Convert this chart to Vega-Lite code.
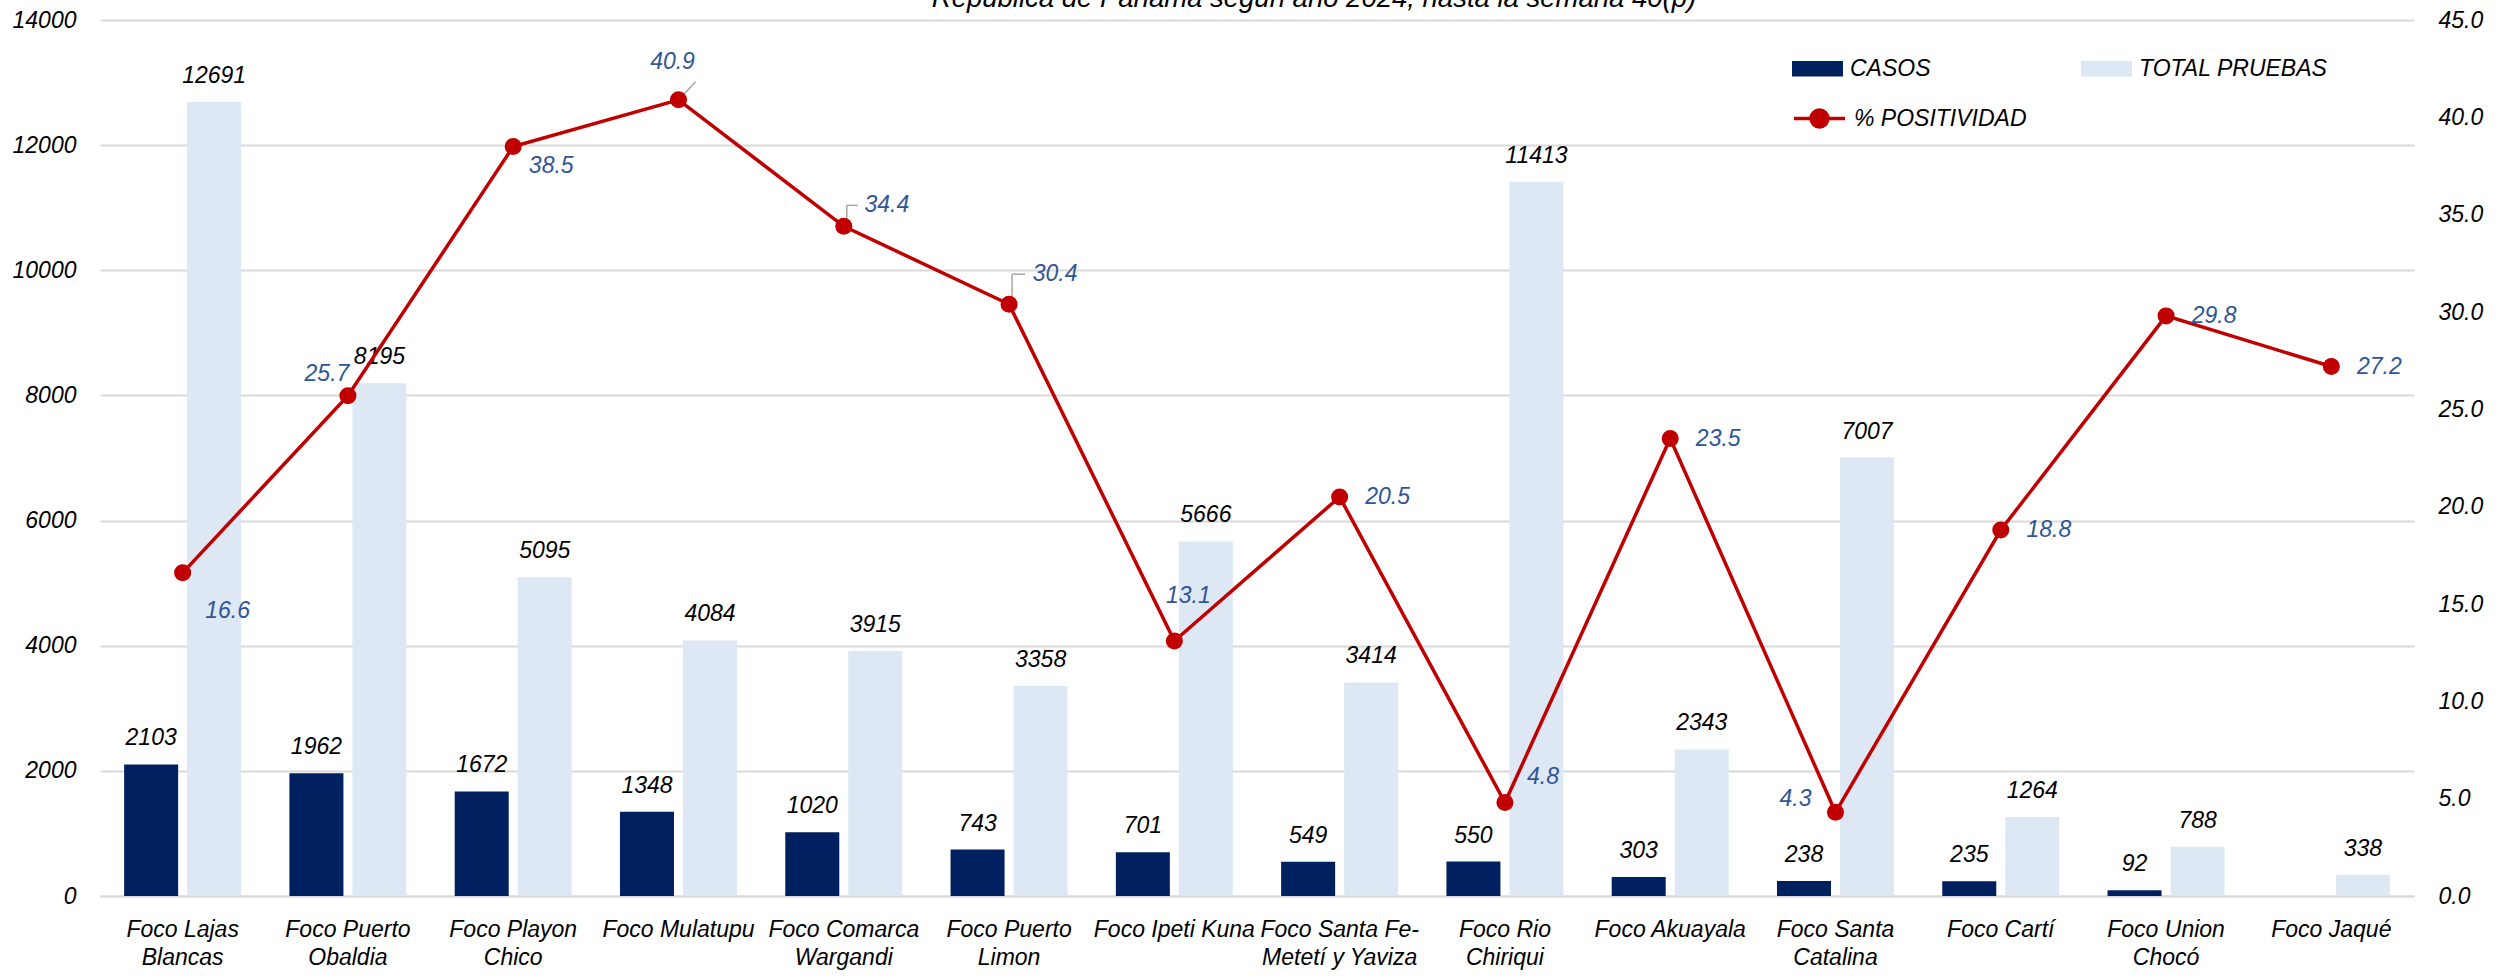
{
  "$schema": "https://vega.github.io/schema/vega-lite/v6.json",
  "width": 2314,
  "height": 876,
  "autosize": {"type": "none"},
  "padding": {"left": 100, "top": 20, "right": 99, "bottom": 83},
  "background": "white",
  "title": {"text": "República de Panamá según año 2024, hasta la semana 40(p)", "fontSize": 27.5, "fontStyle": "italic", "fontWeight": "normal", "font": "Liberation Sans", "color": "#000000", "anchor": "middle", "frame": "group", "dx": 57, "offset": -25, "baseline": "alphabetic"},
  "data": {"values": [
    {"foco": "Foco Lajas Blancas", "CASOS": 2103, "TOTAL PRUEBAS": 12691, "pct": 16.6},
    {"foco": "Foco Puerto Obaldia", "CASOS": 1962, "TOTAL PRUEBAS": 8195, "pct": 25.7},
    {"foco": "Foco Playon Chico", "CASOS": 1672, "TOTAL PRUEBAS": 5095, "pct": 38.5},
    {"foco": "Foco Mulatupu", "CASOS": 1348, "TOTAL PRUEBAS": 4084, "pct": 40.9},
    {"foco": "Foco Comarca Wargandi", "CASOS": 1020, "TOTAL PRUEBAS": 3915, "pct": 34.4},
    {"foco": "Foco Puerto Limon", "CASOS": 743, "TOTAL PRUEBAS": 3358, "pct": 30.4},
    {"foco": "Foco Ipeti Kuna", "CASOS": 701, "TOTAL PRUEBAS": 5666, "pct": 13.1},
    {"foco": "Foco Santa Fe-Metetí y Yaviza", "CASOS": 549, "TOTAL PRUEBAS": 3414, "pct": 20.5},
    {"foco": "Foco Rio Chiriqui", "CASOS": 550, "TOTAL PRUEBAS": 11413, "pct": 4.8},
    {"foco": "Foco Akuayala", "CASOS": 303, "TOTAL PRUEBAS": 2343, "pct": 23.5},
    {"foco": "Foco Santa Catalina", "CASOS": 238, "TOTAL PRUEBAS": 7007, "pct": 4.3},
    {"foco": "Foco Cartí", "CASOS": 235, "TOTAL PRUEBAS": 1264, "pct": 18.8},
    {"foco": "Foco Union Chocó", "CASOS": 92, "TOTAL PRUEBAS": 788, "pct": 29.8},
    {"foco": "Foco Jaqué", "CASOS": null, "TOTAL PRUEBAS": 338, "pct": 27.2}
  ]},
  "layer": [
    {
      "transform": [{"fold": ["CASOS", "TOTAL PRUEBAS"], "as": ["serie", "valor"]}],
      "encoding": {
        "x": {"field": "foco", "type": "nominal", "sort": null, "scale": {"paddingInner": 0.292, "paddingOuter": 0.146},
          "axis": {"labelAngle": 0, "labelPadding": 22, "labelLineHeight": 28, "labelLimit": 400, "domain": true, "domainColor": "#D9D9D9", "domainWidth": 2, "grid": false,
            "labelExpr": "datum.label == 'Foco Santa Fe-Metetí y Yaviza' ? ['Foco Santa Fe-', 'Metetí y Yaviza'] : indexof(['Foco Mulatupu', 'Foco Ipeti Kuna', 'Foco Akuayala', 'Foco Cartí', 'Foco Jaqué'], datum.label) >= 0 ? datum.label : [slice(datum.label, 0, indexof(slice(datum.label, 5), ' ') + 5), slice(datum.label, indexof(slice(datum.label, 5), ' ') + 6)]"}},
        "xOffset": {"field": "serie", "type": "nominal", "scale": {"paddingInner": 0.143, "paddingOuter": 0}},
        "y": {"field": "valor", "type": "quantitative", "scale": {"domain": [0, 14000], "nice": false},
          "axis": {"values": [0, 2000, 4000, 6000, 8000, 10000, 12000, 14000], "format": "d", "labelPadding": 24, "grid": true}}
      },
      "layer": [
        {
          "mark": {"type": "bar"},
          "encoding": {
            "color": {"field": "serie", "type": "nominal", "scale": {"domain": ["CASOS", "TOTAL PRUEBAS"], "range": ["#002060", "#DDE8F4"]},
              "legend": {"title": null, "orient": "none", "legendX": 1692, "legendY": 23, "columns": 2, "columnPadding": 150, "padding": 0,
                "symbolType": "M-1,-0.3H1V0.3H-1Z", "symbolSize": 2601, "symbolStrokeWidth": 0, "labelOffset": 7, "labelLimit": 500,
                "labelFont": "Liberation Sans", "labelFontSize": 23, "labelFontStyle": "italic", "labelColor": "#000000"}}
          }
        },
        {
          "mark": {"type": "text", "baseline": "alphabetic", "dy": -19, "color": "#000000"},
          "encoding": {"text": {"field": "valor", "type": "quantitative", "format": "d"}}
        }
      ]
    },
    {
      "encoding": {
        "x": {"field": "foco", "type": "nominal", "sort": null},
        "y": {"field": "pct", "type": "quantitative", "scale": {"domain": [0, 45], "nice": false},
          "axis": {"orient": "right", "values": [0, 5, 10, 15, 20, 25, 30, 35, 40, 45], "format": ".1f", "labelPadding": 24, "grid": false}}
      },
      "layer": [
        {
          "transform": [{"filter": {"field": "foco", "equal": "Foco Mulatupu"}}],
          "mark": {"type": "rule", "color": "#A6A6A6", "strokeWidth": 1.5, "xOffset": 5, "x2Offset": 17, "yOffset": -5, "y2Offset": -18},
          "encoding": {"x2": {"field": "foco"}, "y2": {"field": "pct"}}
        },
        {
          "transform": [{"filter": {"field": "foco", "oneOf": ["Foco Comarca Wargandi", "Foco Puerto Limon"]}}],
          "mark": {"type": "rule", "color": "#A6A6A6", "strokeWidth": 1.5, "xOffset": 3, "yOffset": -8, "y2Offset": -21},
          "encoding": {"y2": {"field": "pct"}}
        },
        {
          "transform": [{"filter": {"field": "foco", "oneOf": ["Foco Comarca Wargandi"]}}],
          "mark": {"type": "rule", "color": "#A6A6A6", "strokeWidth": 1.5, "xOffset": 3, "x2Offset": 14, "yOffset": -21},
          "encoding": {"x2": {"field": "foco"}}
        },
        {
          "transform": [{"filter": {"field": "foco", "oneOf": ["Foco Puerto Limon"]}}],
          "mark": {"type": "rule", "color": "#A6A6A6", "strokeWidth": 1.5, "xOffset": 3, "yOffset": -21, "y2Offset": -30},
          "encoding": {"y2": {"field": "pct"}}
        },
        {
          "transform": [{"filter": {"field": "foco", "oneOf": ["Foco Puerto Limon"]}}],
          "mark": {"type": "rule", "color": "#A6A6A6", "strokeWidth": 1.5, "xOffset": 3, "x2Offset": 16, "yOffset": -30},
          "encoding": {"x2": {"field": "foco"}}
        },
        {
          "mark": {"type": "line", "strokeWidth": 3.5, "point": {"filled": true, "size": 290}},
          "encoding": {
            "color": {"datum": "% POSITIVIDAD", "type": "nominal", "scale": {"range": ["#C00000"]},
              "legend": {"title": null, "orient": "none", "legendX": 1692, "legendY": 71, "padding": 0,
                "symbolType": "M-1,0H1M-0.33,0A0.33,0.33,0,1,0,0.33,0A0.33,0.33,0,1,0,-0.33,0Z", "symbolSize": 2601, "symbolStrokeWidth": 3.5,
                "symbolFillColor": "#C00000", "symbolStrokeColor": "#C00000", "labelOffset": 7, "labelLimit": 500,
                "labelFont": "Liberation Sans", "labelFontSize": 23, "labelFontStyle": "italic", "labelColor": "#000000"}}
          }
        },
        {
          "transform": [{"filter": {"field": "foco", "oneOf": ["Foco Santa Fe-Metetí y Yaviza", "Foco Akuayala", "Foco Cartí", "Foco Union Chocó", "Foco Jaqué"]}}],
          "mark": {"type": "text", "color": "#2F5597", "dx": 48, "dy": 0},
          "encoding": {"text": {"field": "pct", "type": "quantitative", "format": ".1f"}}
        },
        {
          "transform": [{"filter": {"field": "foco", "equal": "Foco Lajas Blancas"}}],
          "mark": {"type": "text", "color": "#2F5597", "dx": 45, "dy": 38},
          "encoding": {"text": {"field": "pct", "type": "quantitative", "format": ".1f"}}
        },
        {
          "transform": [{"filter": {"field": "foco", "equal": "Foco Puerto Obaldia"}}],
          "mark": {"type": "text", "color": "#2F5597", "dx": -21, "dy": -22},
          "encoding": {"text": {"field": "pct", "type": "quantitative", "format": ".1f"}}
        },
        {
          "transform": [{"filter": {"field": "foco", "equal": "Foco Playon Chico"}}],
          "mark": {"type": "text", "color": "#2F5597", "dx": 38, "dy": 19},
          "encoding": {"text": {"field": "pct", "type": "quantitative", "format": ".1f"}}
        },
        {
          "transform": [{"filter": {"field": "foco", "equal": "Foco Mulatupu"}}],
          "mark": {"type": "text", "color": "#2F5597", "dx": -6, "dy": -38},
          "encoding": {"text": {"field": "pct", "type": "quantitative", "format": ".1f"}}
        },
        {
          "transform": [{"filter": {"field": "foco", "equal": "Foco Comarca Wargandi"}}],
          "mark": {"type": "text", "color": "#2F5597", "dx": 43, "dy": -21},
          "encoding": {"text": {"field": "pct", "type": "quantitative", "format": ".1f"}}
        },
        {
          "transform": [{"filter": {"field": "foco", "equal": "Foco Puerto Limon"}}],
          "mark": {"type": "text", "color": "#2F5597", "dx": 46, "dy": -30},
          "encoding": {"text": {"field": "pct", "type": "quantitative", "format": ".1f"}}
        },
        {
          "transform": [{"filter": {"field": "foco", "equal": "Foco Ipeti Kuna"}}],
          "mark": {"type": "text", "color": "#2F5597", "dx": 14, "dy": -45},
          "encoding": {"text": {"field": "pct", "type": "quantitative", "format": ".1f"}}
        },
        {
          "transform": [{"filter": {"field": "foco", "equal": "Foco Rio Chiriqui"}}],
          "mark": {"type": "text", "color": "#2F5597", "dx": 38, "dy": -26},
          "encoding": {"text": {"field": "pct", "type": "quantitative", "format": ".1f"}}
        },
        {
          "transform": [{"filter": {"field": "foco", "equal": "Foco Santa Catalina"}}],
          "mark": {"type": "text", "color": "#2F5597", "dx": -40, "dy": -13},
          "encoding": {"text": {"field": "pct", "type": "quantitative", "format": ".1f"}}
        }
      ]
    }
  ],
  "resolve": {"scale": {"y": "independent", "color": "independent"}},
  "config": {
    "font": "Liberation Sans",
    "view": {"stroke": null},
    "axis": {"labelFont": "Liberation Sans", "labelFontSize": 23, "labelFontStyle": "italic", "labelColor": "#000000", "ticks": false, "domain": false, "title": null, "gridColor": "#D9D9D9", "gridWidth": 2},
    "text": {"font": "Liberation Sans", "fontSize": 23, "fontStyle": "italic"},
    "legend": {"labelFont": "Liberation Sans"}
  }
}
